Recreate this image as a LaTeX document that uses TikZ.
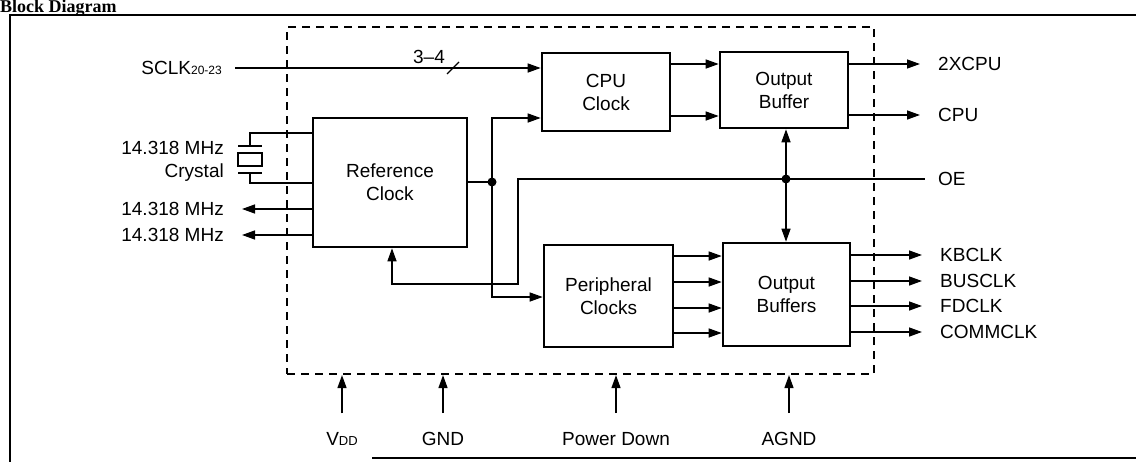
\documentclass[tikz,border=0pt]{standalone}
\usepackage{fontspec}
\setmainfont{Liberation Sans}
\newfontfamily\titleserif{Liberation Serif}
\usetikzlibrary{arrows.meta,calc}

\begin{document}
\begin{tikzpicture}[
  x=1pt,y=-1pt,font=\fontsize{19}{23}\selectfont,
  >={Triangle[length=13pt,width=9pt]},
  blk/.style={draw,line width=2.6pt,align=center,inner sep=0pt},
  sig/.style={line width=1.4pt},
  lbl/.style={inner sep=0pt},
  chip/.style={draw,line width=2.2pt,dash pattern=on 8pt off 6pt,minimum width=587pt,minimum height=347pt},
]
\useasboundingbox (0,0) rectangle (1136,461);
\node[lbl,anchor=base west,font=\titleserif\bfseries\fontsize{18}{18}\selectfont] (title) at (0,12.5) {Block Diagram};
\draw[line width=2pt] (1140,15) -- (10,15) -- (10,465);
\draw[line width=2pt] (372,458) -- (1140,458);
\node[chip] (chip) at (580.5,200.5) {};
\node[blk,minimum width=154pt,minimum height=129pt] (refclk) at (390,182.5) {Reference\\Clock};
\node[blk,minimum width=128pt,minimum height=78pt] (cpuclk) at (606,92) {CPU\\Clock};
\node[blk,minimum width=128pt,minimum height=76pt] (outbuf) at (784,90) {Output\\Buffer};
\node[blk,minimum width=129pt,minimum height=102pt] (perclk) at (608.5,296) {Peripheral\\Clocks};
\node[blk,minimum width=127pt,minimum height=103pt] (outbufs) at (786.5,294.5) {Output\\Buffers};
\node[lbl,anchor=east] (sclk) at (222,68) {SCLK{\fontsize{12}{12}\selectfont 20-23}};
\draw[sig,->,shorten <=13pt] (sclk.east) -- (sclk.east -| cpuclk.west);
\coordinate (bus) at (453,68);
\draw[sig] ($(bus)+(-6,6)$) -- ($(bus)+(6,-6)$);
\node[lbl] (buswidth) at (429,57) {3--4};
\node[lbl,align=right,anchor=east] (xtal) at (224,161) {14.318 MHz\\Crystal};
\coordinate (xa) at (250,146);
\coordinate (xb) at (250,173);
\draw[sig] ($(xa)+(-12,0)$) -- ($(xa)+(12,0)$) ($(xb)+(-12,0)$) -- ($(xb)+(12,0)$);
\draw[sig] ($(xa)+(-12,7)$) rectangle ($(xb)+(12,-7)$);
\draw[sig] (xa) |- ($(refclk.west)+(0,-49.5)$);
\draw[sig] (xb) |- ($(refclk.west)+(0,0.5)$);
\foreach \y/\nm in {209/mhza,235/mhzb}{
  \node[lbl,anchor=east] (\nm) at (224,\y) {14.318 MHz};
  \draw[sig,->,shorten >=18pt] (refclk.west |- \nm.east) -- (\nm.east);
}
\coordinate (refj) at (492,182);
\coordinate (oej) at (786,179);
\coordinate (oebend) at (518,179);
\coordinate (fbk) at (392,284);
\draw[sig] (refclk.east |- refj) -- (refj);
\draw[sig,->] (refj) |- ($(cpuclk.west)+(0,26)$);
\draw[sig,->] (refj) |- ($(perclk.west)+(0,1)$);
\draw[sig,->] (oej) -- (oebend) |- (fbk) -- (fbk |- refclk.south);
\draw[sig,->] (oej) -- (oej |- outbuf.south);
\draw[sig,->] (oej) -- (oej |- outbufs.north);
\fill (refj) circle (4.5pt) (oej) circle (4.5pt);
\node[lbl,anchor=west] (oe) at (938,179) {OE};
\draw[sig,shorten >=13pt] (oej) -- (oe.west);
\foreach \y in {64,116} \draw[sig,->] (cpuclk.east |- 0,\y) -- (outbuf.west |- 0,\y);
\foreach \y/\lab/\nm in {64/2XCPU/xcpu,115/CPU/cpu}{
  \node[lbl,anchor=west] (\nm) at (938,\y) {\lab};
  \draw[sig,->,shorten >=18pt] (outbuf.east |- \nm.west) -- (\nm.west);
}
\foreach \y in {256,282,308,333} \draw[sig,->] (perclk.east |- 0,\y) -- (outbufs.west |- 0,\y);
\foreach \y/\lab/\nm in {255/KBCLK/kbclk,281/BUSCLK/busclk,306/FDCLK/fdclk,332/COMMCLK/commclk}{
  \node[lbl,anchor=west] (\nm) at (940,\y) {\lab};
  \draw[sig,->,shorten >=18pt] (outbufs.east |- \nm.west) -- (\nm.west);
}
\foreach \x/\lab/\nm in {342/V{\fontsize{13}{13}\selectfont DD}/vdd,443/GND/gnd,616/Power Down/pwrdn,789/AGND/agnd}{
  \node[lbl] (\nm) at (\x,439) {\lab};
  \draw[sig,->,shorten <=19pt] (\nm.north) -- (\nm.north |- chip.south);
}
\end{tikzpicture}
\end{document}
